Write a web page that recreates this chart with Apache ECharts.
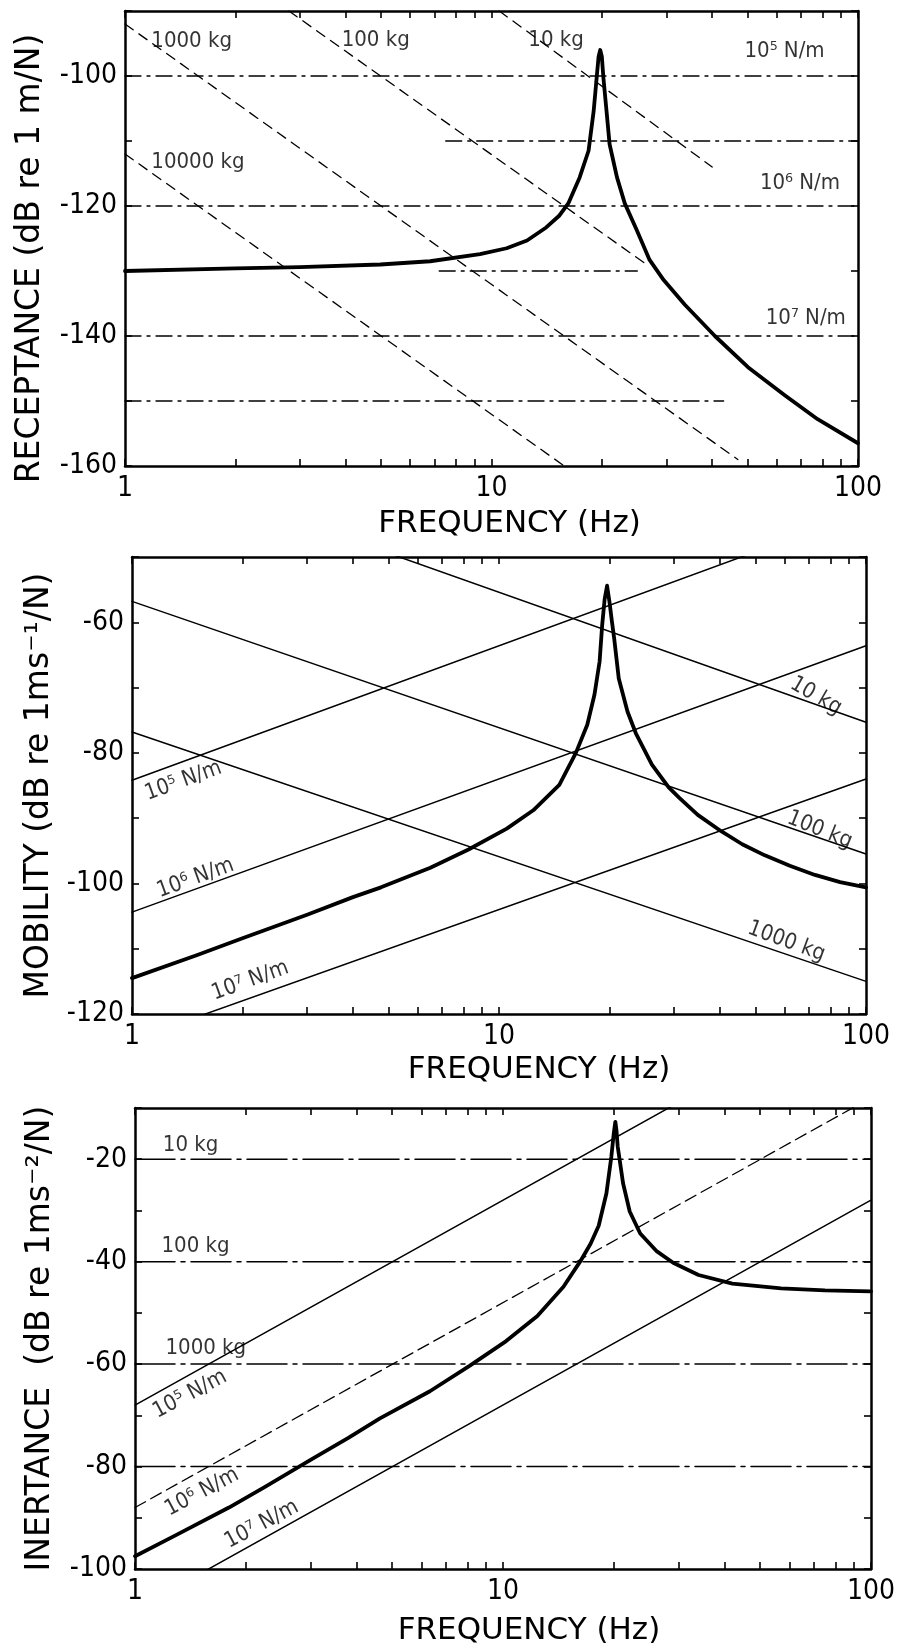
<!DOCTYPE html>
<html><head><meta charset="utf-8">
<script src="https://cdn.jsdelivr.net/npm/echarts@6/dist/echarts.min.js"></script>
<style>html,body{margin:0;padding:0;background:#fff}#c{width:898px;height:1648px}</style>
</head><body><div id="c"></div>
<script>
const FONT = "'Liberation Sans Narrow','DejaVu Sans Condensed','Liberation Sans',sans-serif";
const NAMEFONT = "'DejaVu Sans','Liberation Sans',sans-serif";

// ---- axis ticks ----
const freqTicks = [1,2,3,4,5,6,7,8,9,10,20,30,40,50,60,70,80,90,100];

// ---- Panel 1: receptance (dB re 1 m/N) ----
const recCurve = [[1,-130],[2,-129.6],[3,-129.4],[4.97,-129],[6.8,-128.5],[9.3,-127.4],[11,-126.5],[12.5,-125.3],[14.1,-123.3],[15.3,-121.5],[16.2,-119.6],[17.4,-115.6],[18.4,-111.5],[19,-105.4],[19.4,-99.7],[19.6,-97],[19.8,-96],[20,-97],[20.2,-100.3],[20.6,-105.4],[21,-110.5],[22,-115.6],[23.1,-119.6],[24.9,-123.7],[27,-128.3],[29.5,-131.4],[33.7,-135.2],[40.7,-140],[50.1,-144.8],[63.1,-149.1],[77.6,-152.8],[100,-156.5]];
const rec10kg = [[10.5,-90],[40,-114]];
const rec100kg = [[2.8,-90],[26.5,-129]];
const rec1000kg = [[1,-92],[47,-159]];
const rec10000kg = [[1,-112],[15.8,-160]];
const recK1e5 = [[1,-100],[100,-100]];
const recK1e6 = [[1,-120],[100,-120]];
const recK1e7 = [[1,-140],[100,-140]];
const recAux110 = [[7.5,-110],[100,-110]];
const recAux130 = [[7.2,-130],[25,-130]];
const recAux150 = [[1,-150],[43,-150]];

// ---- Panel 2: mobility (dB re 1 m s^-1/N) ----
const mobCurve = [[1,-114.5],[1.5,-111],[2,-108.4],[3,-104.8],[4,-102.1],[4.77,-100.6],[6.5,-97.6],[8.26,-94.8],[10.5,-91.6],[12.4,-88.8],[14.6,-84.9],[16.2,-80],[17.4,-75.7],[18.2,-71.1],[18.8,-66],[19.1,-60.5],[19.4,-56.5],[19.7,-54.4],[20,-56.9],[20.3,-59.8],[20.6,-62.5],[21.2,-68.6],[22.4,-73.7],[23.6,-77],[26.1,-81.8],[29,-85.3],[31,-86.9],[34.8,-89.5],[40.3,-92],[46,-94],[53,-95.7],[62,-97.3],[72.6,-98.7],[85,-99.8],[100,-100.6]];
const mobK1e5 = [[1,-84.2],[100,-43]];
const mobK1e6 = [[1,-104.4],[100,-63.6]];
const mobK1e7 = [[1,-124],[100,-84]];
const mob10kg = [[1,-35.5],[100,-75.3]];
const mob100kg = [[1,-56.8],[100,-95.5]];
const mob1000kg = [[1,-76.8],[100,-115]];

// ---- Panel 3: inertance (dB re 1 m s^-2/N) ----
const inerCurve = [[1,-97.5],[1.3,-93.3],[1.8,-88],[2.25,-84],[3,-78.7],[3.8,-74.4],[4.63,-70.6],[6.33,-65.3],[8.13,-60.3],[10.2,-55.5],[12.4,-50.6],[14.6,-44.9],[16.2,-40],[17.3,-36.5],[18.2,-33],[19.1,-26.7],[19.7,-19.5],[20,-15],[20.2,-12.7],[20.35,-14.5],[20.5,-17.5],[21.2,-24.7],[22.1,-30.2],[23.6,-34.5],[26.2,-38],[29,-40.2],[34,-42.6],[42,-44.3],[57,-45.2],[75,-45.6],[100,-45.8]];
const iner10kg = [[1,-20],[100,-20]];
const iner100kg = [[1,-40],[100,-40]];
const iner1000kg = [[1,-60],[100,-60]];
const iner10000kg = [[1,-80],[100,-80]];
const inerK1e5 = [[1,-68],[100,12]];
const inerK1e6 = [[1,-88],[100,-8]];
const inerK1e7 = [[1,-108],[100,-28]];

// ---- annotation texts ----
const recNotes = [
  {t:'1000 kg', f:1.18, v:-94.7, r:0, a:'left'},
  {t:'100 kg', f:3.9, v:-94.5, r:0, a:'left'},
  {t:'10 kg', f:12.6, v:-94.5, r:0, a:'left'},
  {t:'10000 kg', f:1.18, v:-113.3, r:0, a:'left'},
  {t:'10\u2075 N/m', f:49, v:-96.2, r:0, a:'left'},
  {t:'10\u2076 N/m', f:54, v:-116.5, r:0, a:'left'},
  {t:'10\u2077 N/m', f:56, v:-137.3, r:0, a:'left'}
];
const mobNotes = [
  {t:'10\u2075 N/m', f:1.38, v:-84.3, r:20, a:'center'},
  {t:'10\u2076 N/m', f:1.49, v:-99.2, r:20, a:'center'},
  {t:'10\u2077 N/m', f:2.1, v:-114.9, r:20, a:'center'},
  {t:'10 kg', f:73, v:-71.3, r:-30, a:'center'},
  {t:'100 kg', f:74.8, v:-91.8, r:-22, a:'center'},
  {t:'1000 kg', f:60.7, v:-108.9, r:-20, a:'center'}
];
const inerNotes = [
  {t:'10 kg', f:1.19, v:-17.2, r:0, a:'left'},
  {t:'100 kg', f:1.18, v:-37, r:0, a:'left'},
  {t:'1000 kg', f:1.21, v:-57, r:0, a:'left'},
  {t:'10\u2075 N/m', f:1.41, v:-65.9, r:28, a:'center'},
  {t:'10\u2076 N/m', f:1.52, v:-85, r:28, a:'center'},
  {t:'10\u2077 N/m', f:2.21, v:-91.3, r:28, a:'center'}
];

const panels = [
  {grid:{left:125, top:11, width:733, height:455}, ymin:-160, ymax:-90,
   yname:'RECEPTANCE (dB re 1 m/N)', nameGap:78, yPad:[0,40,0,0], xPad:[0,0,0,36], xGap:42},
  {grid:{left:132, top:557, width:734, height:457}, ymin:-120, ymax:-50,
   yname:'MOBILITY (dB re 1ms\u207B\u00B9/N)', nameGap:72, yPad:[0,0,0,0], xPad:[0,0,0,80], xGap:40},
  {grid:{left:135, top:1108, width:736, height:461}, ymin:-100, ymax:-10,
   yname:'INERTANCE  (dB re 1ms\u207B\u00B2/N)', nameGap:78, yPad:[0,0,0,0], xPad:[0,0,0,52], xGap:46}
];

const grids = [], xAxes = [], yAxes = [], series = [];
const LW = 2.5;
const tickStyle = {color:'#000', width:1.6};
panels.forEach((p, g) => {
  grids.push(Object.assign({containLabel:false}, p.grid));
  xAxes.push({type:'log', logBase:10, min:1, max:100, gridIndex:g, position:'bottom',
    name:'FREQUENCY (Hz)', nameLocation:'middle', nameGap:p.xGap,
    nameTextStyle:{fontSize:31, color:'#000', fontFamily:NAMEFONT, padding:p.xPad},
    axisLine:{show:true, onZero:false, lineStyle:{color:'#000', width:LW}},
    axisTick:{show:false}, splitLine:{show:false}, minorTick:{show:false},
    axisLabel:{fontSize:28, color:'#000', fontFamily:FONT, margin:9,
      formatter: v => String(Math.round(v))}});
  xAxes.push({type:'value', min:0, max:2, gridIndex:g, position:'bottom',
    axisLine:{show:false, onZero:false}, axisLabel:{show:false}, splitLine:{show:false},
    axisTick:{show:true, inside:true, length:7, lineStyle:tickStyle,
      customValues: freqTicks.map(Math.log10)}});
  xAxes.push({type:'value', min:0, max:2, gridIndex:g, position:'top',
    axisLine:{show:true, onZero:false, lineStyle:{color:'#000', width:LW}}, axisLabel:{show:false}, splitLine:{show:false},
    axisTick:{show:true, inside:true, length:7, lineStyle:tickStyle,
      customValues: freqTicks.map(Math.log10)}});
  yAxes.push({type:'value', min:p.ymin, max:p.ymax, interval:10, gridIndex:g, position:'left',
    name:p.yname, nameLocation:'middle', nameGap:p.nameGap, nameRotate:90,
    nameTextStyle:{fontSize:33, color:'#000', fontFamily:NAMEFONT, padding:p.yPad},
    axisLine:{show:true, onZero:false, lineStyle:{color:'#000', width:LW}},
    axisTick:{show:true, inside:true, length:7, lineStyle:tickStyle},
    splitLine:{show:false},
    axisLabel:{fontSize:28, color:'#000', fontFamily:FONT, margin:8,
      formatter: v => (v % 20 === 0 ? String(v) : '')}});
  yAxes.push({type:'value', min:p.ymin, max:p.ymax, interval:10, gridIndex:g, position:'right',
    axisLine:{show:true, onZero:false, lineStyle:{color:'#000', width:LW}},
    axisTick:{show:true, inside:true, length:7, lineStyle:tickStyle},
    splitLine:{show:false}, axisLabel:{show:false}});
});

function line(data, g, width, type) {
  series.push({type:'line', data:data, xAxisIndex:3*g, yAxisIndex:2*g,
    symbol:'none', silent:true, animation:false, clip:true, smooth:false,
    lineStyle:{color:'#000', width:width, type:type||'solid', join:'round', cap:'round'}, z: width > 2 ? 5 : 3});
}
function notes(list, g) {
  series.push({type:'scatter', xAxisIndex:3*g, yAxisIndex:2*g, symbolSize:0, silent:true, animation:false,
    data: list.map(n => ({value:[n.f, n.v],
      label:{show:true, position:'inside', formatter:n.t, rotate:n.r, align:n.a, verticalAlign:'middle',
        fontSize:22, color:'#000', fontFamily:FONT}})),
    z:6});
}
const DD = [16,6,3,6];
// panel 1
[recK1e5, recK1e6, recK1e7, recAux110, recAux130, recAux150].forEach(d => line(d, 0, 1.3, DD));
[rec10kg, rec100kg, rec1000kg, rec10000kg].forEach(d => line(d, 0, 1.3, [10,7]));
line(recCurve, 0, 3.8);
notes(recNotes, 0);
// panel 2
[mobK1e5, mobK1e6, mobK1e7, mob10kg, mob100kg, mob1000kg].forEach(d => line(d, 1, 1.5));
line(mobCurve, 1, 3.8);
notes(mobNotes, 1);
// panel 3
[iner10kg, iner100kg, iner1000kg, iner10000kg].forEach(d => line(d, 2, 1.5, [40,6,4,6]));
line(inerK1e5, 2, 1.5);
line(inerK1e6, 2, 1.3, [12,6]);
line(inerK1e7, 2, 1.5);
line(inerCurve, 2, 3.8);
notes(inerNotes, 2);

const chart = echarts.init(document.getElementById('c'), null, {renderer:'canvas'});
chart.setOption({backgroundColor:'#fff', animation:false,
  textStyle:{fontFamily:FONT},
  grid:grids, xAxis:xAxes, yAxis:yAxes, series:series});
</script></body></html>
